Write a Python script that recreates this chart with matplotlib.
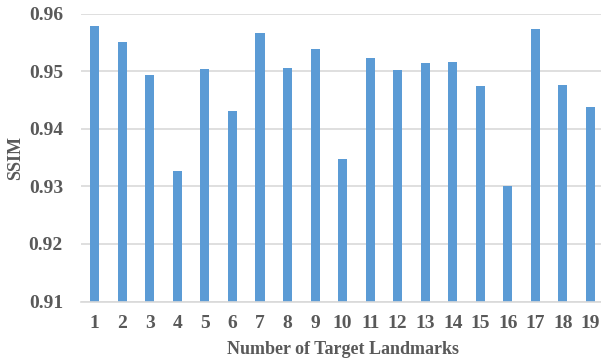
import numpy as np
import matplotlib
matplotlib.use("Agg")
import matplotlib.pyplot as plt

landmarks = list(range(1, 20))
ssim = [0.9578, 0.9550, 0.9493, 0.9327, 0.9503, 0.9431, 0.9567, 0.9505,
        0.9538, 0.9348, 0.9522, 0.9502, 0.9514, 0.9516, 0.9475, 0.9300,
        0.9573, 0.9476, 0.9437]
yticks = [0.91, 0.92, 0.93, 0.94, 0.95, 0.96]

plt.rcParams['font.family'] = ['Liberation Serif', 'DejaVu Serif']
plt.rcParams['font.weight'] = 'bold'

text_color = '#595959'
grid_color = '#D9D9D9'

fig = plt.figure(figsize=(6.01, 3.61), dpi=100)
ax = fig.add_axes([0.1348, 0.1648, 0.8705, 0.7978])

ax.bar(landmarks, ssim, width=0.33, color='#5B9BD5', zorder=3)

ax.set_xlim(0.5, 19.5)
ax.set_ylim(0.91, 0.96)
ax.set_yticks(yticks)
ax.set_yticklabels(['%.2f' % v for v in yticks])
ax.set_xticks(landmarks)

ax.yaxis.grid(True, color=grid_color, linewidth=1.2, zorder=0)
for s in ['top', 'right', 'left']:
    ax.spines[s].set_visible(False)
ax.spines['bottom'].set_color(grid_color)
ax.spines['bottom'].set_linewidth(1.2)
ax.spines['bottom'].set_zorder(4)

ax.tick_params(axis='both', length=0, labelsize=14, colors=text_color)
ax.tick_params(axis='y', pad=13)
ax.tick_params(axis='x', pad=10)

ax.set_ylabel('SSIM', fontsize=13, color=text_color, fontweight='bold', labelpad=3)
ax.set_xlabel('Number of Target Landmarks', fontsize=13, color=text_color,
              fontweight='bold', labelpad=6)

fig.savefig('out.png', dpi=100)
